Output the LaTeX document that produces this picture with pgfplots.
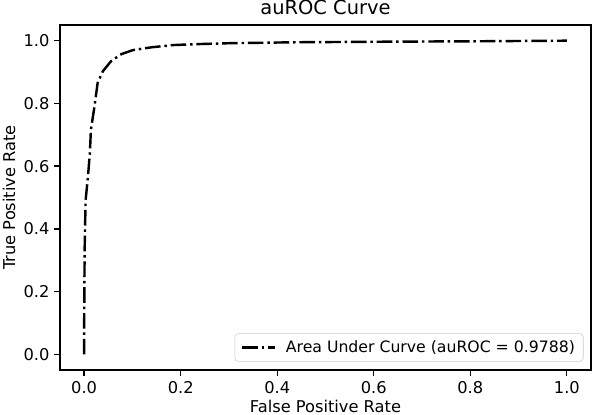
\documentclass[border=0pt]{standalone}
\usepackage{fontspec}
\setmainfont{DejaVu Sans}
\usepackage{pgfplots}
\pgfplotsset{compat=1.18}
\begin{document}
\begin{tikzpicture}[x=1pt,y=1pt]
\useasboundingbox (-43.2pt,-31.68pt) rectangle (383.04pt,266.4pt);
\begin{axis}[
  at={(0pt,0pt)}, anchor=south west,
  scale only axis,
  width=382.3pt, height=248.4pt,
  xmin=-0.05, xmax=1.05, ymin=-0.05, ymax=1.05,
  xtick={0,0.2,0.4,0.6,0.8,1.0},
  ytick={0,0.2,0.4,0.6,0.8,1.0},
  /pgf/number format/assume math mode=true,
  /pgf/number format/fixed, /pgf/number format/fixed zerofill,
  /pgf/number format/precision=1,
  tick align=outside, tick pos=left,
  major tick length=4.1pt,
  axis line style={line width=0.94pt},
  every tick/.style={black, line width=0.94pt},
  tick label style={font=\fontsize{11.7}{14}\selectfont},
  xticklabel style={yshift=-0.5pt},
  xlabel={False Positive Rate},
  ylabel={True Positive Rate},
  label style={font=\fontsize{11.7}{14}\selectfont},
  xlabel style={yshift=2pt},
  ylabel style={yshift=-1pt},
  title={auROC Curve},
  title style={font=\fontsize{14}{16}\selectfont, yshift=-2pt},
  legend style={at={(0.986,0.024)}, anchor=south east, draw=black!20, rounded corners=2.5pt,
    fill=white, fill opacity=0.8, text opacity=1,
    font=\fontsize{11.3}{13.5}\selectfont, inner xsep=4pt, inner ysep=3pt},
  legend cell align=left,
  legend image code/.code={\draw[#1, line width=1.75pt] (0pt,0pt) -- (23.4pt,0pt); \path (-0.5pt,0pt) (28.5pt,0pt);},
]
\addplot[black, line width=1.75pt, line cap=butt,
  dash pattern=on 11.2pt off 2.8pt on 1.75pt off 2.8pt] coordinates {
(0,0) (0,0.075) (0.001,0.33) (0.003,0.49) (0.008,0.567) (0.012,0.645)
(0.014,0.716) (0.0215,0.791) (0.028,0.866) (0.039,0.903) (0.056,0.935)
(0.077,0.957) (0.101,0.970) (0.14,0.979) (0.184,0.986) (0.233,0.989)
(0.302,0.992) (0.44,0.995) (0.647,0.997) (0.8,0.998) (0.9,0.999) (1,1)
};
\addlegendentry{Area Under Curve (auROC = 0.9788)}
\end{axis}
\end{tikzpicture}
\end{document}
